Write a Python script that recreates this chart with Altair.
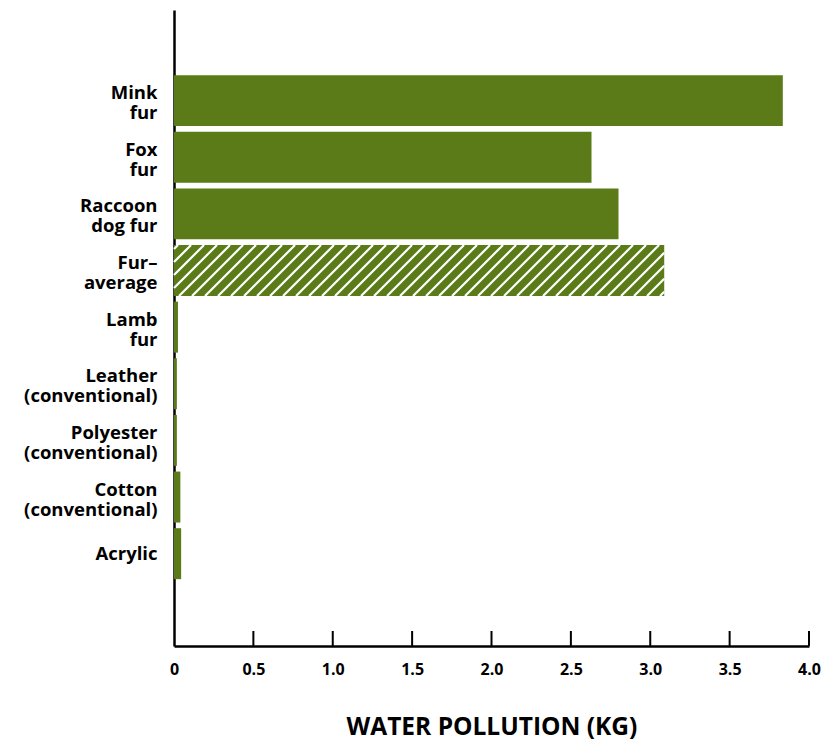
import altair as alt
import pandas as pd

# ---- data ----
label_lines = [
    ["Mink", "fur"],
    ["Fox", "fur"],
    ["Raccoon", "dog fur"],
    ["Fur–", "average"],
    ["Lamb", "fur"],
    ["Leather", "(conventional)"],
    ["Polyester", "(conventional)"],
    ["Cotton", "(conventional)"],
    ["Acrylic"],
]
values = [3.835, 2.63, 2.80, 3.088, 0.025, 0.018, 0.018, 0.04, 0.045]
hatched = [False, False, False, True, False, False, False, False, False]
x_ticks = [0, 0.5, 1.0, 1.5, 2.0, 2.5, 3.0, 3.5, 4.0]

# ---- layout / style ----
W, H = 635, 636
X_MAX = 4.0
Y_DOM = [-1.6, 9.63]
HALF = 0.45
GREEN = "#5b7b19"
FONT = "Open Sans"
HATCH_STEP_PX = 13

idx = list(range(len(values)))
bars = pd.DataFrame({
    "i": idx,
    "value": values,
    "lo": [i - HALF for i in idx],
    "hi": [i + HALF for i in idx],
})

# hatch segments (45 degree white stripes) clipped to each hatched bar
px_x = W / X_MAX
px_y = H / (Y_DOM[1] - Y_DOM[0])
bar_h_px = 2 * HALF * px_y
segs = []
for i, v, h in zip(idx, values, hatched):
    if not h:
        continue
    w_px = v * px_x
    u = -bar_h_px + 4
    while u < w_px:
        t0 = max(0.0, -u)
        t1 = min(bar_h_px, w_px - u)
        if t1 > t0:
            segs.append({
                "x": (u + t0) / px_x, "x2": (u + t1) / px_x,
                "y": (i + HALF) - t0 / px_y, "y2": (i + HALF) - t1 / px_y,
            })
        u += HATCH_STEP_PX
hatch_df = pd.DataFrame(segs)

label_expr = "[" + ",".join(
    "[" + ",".join("'" + s + "'" for s in lines) + "]" for lines in label_lines
) + "][datum.value]"
n_multi = [k for k, lines in enumerate(label_lines) if len(lines) > 1]
multi_test = "indexof(" + str(n_multi) + ", datum.value) >= 0"

xscale = alt.Scale(domain=[0, X_MAX], nice=False, zero=True)
yscale = alt.Scale(domain=Y_DOM, reverse=True, nice=False, zero=False)

base_bars = alt.Chart(bars).mark_rect(color=GREEN).encode(
    x=alt.X("zero:Q", scale=xscale, axis=alt.Axis(
        title="WATER POLLUTION (KG)", values=x_ticks, ticks=False, grid=False,
        domainColor="black", domainWidth=2.5,
        labelExpr="datum.value == 0 ? '0' : format(datum.value, '.1f')",
        labelFont=FONT, labelFontSize=16, labelFontWeight="bold", labelColor="black",
        labelPadding=15, labelFlush=False,
        titleFont=FONT, titleFontSize=24.5, titleFontWeight="bold", titleColor="black",
        titlePadding=38,
    )),
    x2="value:Q",
    y=alt.Y("lo:Q", scale=yscale, axis=alt.Axis(
        title=None, values=idx, ticks=False, grid=False,
        domainColor="black", domainWidth=2.5,
        labelExpr=label_expr, labelFont=FONT, labelFontSize=18.5,
        labelFontWeight="bold", labelColor="black", labelLineHeight=20,
        labelPadding=17,
        labelOffset={"condition": {"test": multi_test, "value": -8}, "value": 0},
    )),
    y2="hi:Q",
).transform_calculate(zero="0")

hatch = alt.Chart(hatch_df).mark_rule(color="white", strokeWidth=2.2).encode(
    x=alt.X("x:Q", scale=xscale), x2="x2:Q",
    y=alt.Y("y:Q", scale=yscale), y2="y2:Q",
)

ticks = alt.Chart(pd.DataFrame({"t": x_ticks[1:]})).mark_rule(
    color="black", strokeWidth=2
).encode(
    x=alt.X("t:Q", scale=xscale),
    y=alt.value(H),
    y2=alt.value(H - 15),
)

chart = alt.layer(base_bars, hatch, ticks).properties(
    width=W, height=H,
    autosize=alt.AutoSizeParams(type="none"),
    padding={"left": 166, "top": 2, "right": 12, "bottom": 95},
).configure_view(stroke=None).configure_axis(labelOverlap=False)

chart.save("out.html", embed_options={"renderer": "svg", "actions": False})
